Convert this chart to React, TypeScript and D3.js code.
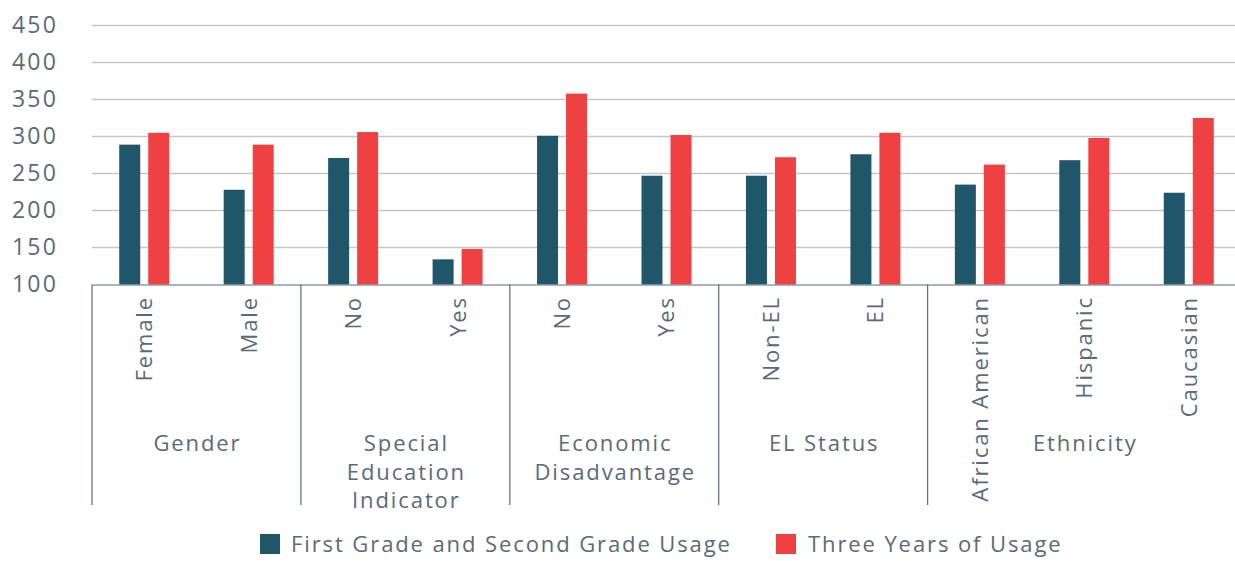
import React from 'react';
import { scaleBand, scaleLinear, range } from 'd3';

const width = 1235;
const height = 561;

const categories = ['Female', 'Male', 'No', 'Yes', 'No', 'Yes', 'Non-EL', 'EL', 'African American', 'Hispanic', 'Caucasian'];
const groupLabels = [['Gender'], ['Special', 'Education', 'Indicator'], ['Economic', 'Disadvantage'], ['EL Status'], ['Ethnicity']];
const groupSizes = [2, 2, 2, 2, 3];
const seriesNames = ['First Grade and Second Grade Usage', 'Three Years of Usage'];
const firstSecondGrade = [289, 228, 271, 134, 301, 247, 247, 276, 235, 268, 224];
const threeYears = [305, 289, 306, 148, 358, 302, 272, 305, 262, 298, 325];
const yTicks = [100, 150, 200, 250, 300, 350, 400, 450];

const colors = ['#20566a', '#ef4141'];
const textColor = '#5a6a78';
const axisColor = '#5b6b79';
const font = "'Open Sans', sans-serif";
const spacing = 1.9;

const left = 92;
const right = 1241;
const top = 25.5;
const bottom = 284.5;

export default function App() {
  const x = scaleBand<number>()
    .domain(range(categories.length))
    .range([left, right]);

  const xSeries = scaleBand<number>()
    .domain([0, 1])
    .range([0, 50])
    .paddingInner(0.276);

  const y = scaleLinear().domain([100, 450]).range([bottom, top]);

  const series = [firstSecondGrade, threeYears];

  // group boundaries from cumulative sizes
  const bounds: number[] = [0];
  groupSizes.forEach((s) => bounds.push(bounds[bounds.length - 1] + s));

  return (
    <svg width={width} height={height} style={{ position: 'absolute', left: 0, top: 0 }} fontFamily={font}>
      <rect width={width} height={height} fill="#fff" />

      {yTicks.map((t) => (
        <g key={t}>
          {t > 100 && (
            <line x1={left} x2={width} y1={y(t)} y2={y(t)} stroke="#c6c6c6" strokeWidth={1.5} />
          )}
          <text x={35} y={y(t) - 2} textAnchor="middle" dominantBaseline="central" fontSize={23} letterSpacing={2.2} fill={textColor}>
            {t}
          </text>
        </g>
      ))}

      {series.map((vals, s) =>
        vals.map((v, i) => (
          <rect
            key={`${s}-${i}`}
            x={x(i)! + x.bandwidth() / 2 - 25 + xSeries(s)!}
            y={y(v)}
            width={xSeries.bandwidth()}
            height={y(100) - y(v)}
            fill={colors[s]}
          />
        ))
      )}

      <line x1={left} x2={width} y1={bottom + 0.5} y2={bottom + 0.5} stroke={axisColor} strokeWidth={1.2} />

      {bounds.map((b) => {
        const bx = b < categories.length ? x(b)! : right;
        return <line key={b} x1={bx} x2={bx} y1={bottom} y2={505} stroke={axisColor} strokeWidth={1.2} />;
      })}

      {categories.map((c, i) => (
        <text
          key={i}
          transform={`translate(${x(i)! + x.bandwidth() / 2},296) rotate(-90)`}
          textAnchor="end"
          dy="0.36em"
          fontSize={22}
          letterSpacing={spacing}
          fill={textColor}
        >
          {c}
        </text>
      ))}

      {groupLabels.map((lines, g) => {
        const x0 = x(bounds[g])!;
        const x1 = bounds[g + 1] < categories.length ? x(bounds[g + 1])! : right;
        const cx = (x0 + x1) / 2 + 1;
        return (
          <text key={g} x={cx} y={451} textAnchor="middle" fontSize={22} letterSpacing={spacing} fill={textColor}>
            {lines.map((l, k) => (
              <tspan key={k} x={cx} dy={k === 0 ? 0 : 28.5}>
                {l}
              </tspan>
            ))}
          </text>
        );
      })}

      <g>
        <rect x={260} y={534} width={20} height={20} fill={colors[0]} />
        <text x={291} y={552} fontSize={22} letterSpacing={spacing} fill={textColor}>{seriesNames[0]}</text>
        <rect x={776} y={534} width={20} height={20} fill={colors[1]} />
        <text x={808} y={552} fontSize={22} letterSpacing={spacing} fill={textColor}>{seriesNames[1]}</text>
      </g>
    </svg>
  );
}
